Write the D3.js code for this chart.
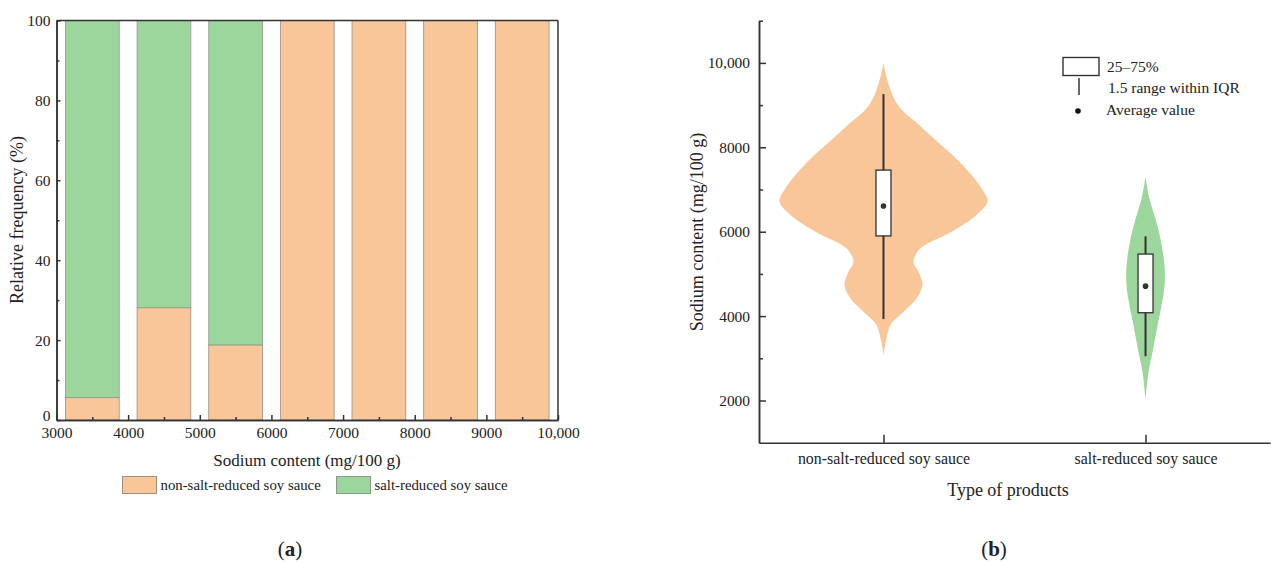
<!DOCTYPE html>
<html>
<head>
<meta charset="utf-8">
<script src="https://cdn.jsdelivr.net/npm/d3@7"></script>
<style>
  html, body { margin: 0; padding: 0; background: #fff; }
  text { font-family: "Liberation Serif", "Times New Roman", serif; fill: #222; }
</style>
</head>
<body>
<svg id="chart" width="1271" height="563"></svg>
<script>
// ---------- Data: panel (a) ----------
const binStarts = [3000, 4000, 5000, 6000, 7000, 8000, 9000];
const nonSaltFreq = [5.6, 28.1, 18.8, 100, 100, 100, 100];
const saltFreq = [94.4, 71.9, 81.2, 0, 0, 0, 0];
const xTicksA = [3000, 4000, 5000, 6000, 7000, 8000, 9000, 10000];
const yTicksA = [0, 20, 40, 60, 80, 100];
const seriesNames = ["non-salt-reduced soy sauce", "salt-reduced soy sauce"];

// ---------- Data: panel (b) ----------
const categories = ["non-salt-reduced soy sauce", "salt-reduced soy sauce"];
const yTicksB = [2000, 4000, 6000, 8000, 10000];
// violin outlines: [value, relative density]
const violinNonSalt = [[10000,0],[9700,0.027],[9235,0.09],[8920,0.17],[8603,0.32],[8366,0.43],[8129,0.54],[7583,0.79],[7031,0.98],[6714,1.04],[6398,0.93],[6000,0.68],[5605,0.37],[5289,0.30],[5052,0.35],[4737,0.39],[4420,0.33],[4104,0.20],[3789,0.07],[3474,0.03],[3080,0]];
const violinSalt = [[7300,0],[6775,0.04],[6300,0.10],[5826,0.15],[5194,0.19],[4720,0.19],[4246,0.16],[3780,0.12],[3147,0.07],[2673,0.03],[2020,0]];
const q1 = [5900, 4080];
const q3 = [7460, 5470];
const means = [6610, 4710];
const whiskLow = [3930, 3050];
const whiskHigh = [9260, 5890];
const legendLabels = ["25\u201375%", "1.5 range within IQR", "Average value"];

const ORANGE = "#f9c699";
const GREEN = "#9dd69c";
const DARK = "#333";

const svg = d3.select("#chart");

// ================= Panel (a) =================
const xA = d3.scaleLinear().domain([3000, 10000]).range([56.5, 558]);
const yA = d3.scaleLinear().domain([0, 100]).range([420, 20.5]);
const gA = svg.append("g");

const stack = binStarts.map((b, i) => ({ b, non: nonSaltFreq[i], salt: saltFreq[i] }));
gA.selectAll("rect.non").data(stack).join("rect")
  .attr("x", d => xA(d.b + 125))
  .attr("width", d => xA(d.b + 875) - xA(d.b + 125))
  .attr("y", d => yA(d.non))
  .attr("height", d => yA(0) - yA(d.non))
  .attr("fill", ORANGE).attr("stroke", "#9a8f80").attr("stroke-width", 0.8);
gA.selectAll("rect.salt").data(stack.filter(d => d.salt > 0)).join("rect")
  .attr("x", d => xA(d.b + 125))
  .attr("width", d => xA(d.b + 875) - xA(d.b + 125))
  .attr("y", d => yA(d.non + d.salt))
  .attr("height", d => yA(d.non) - yA(d.non + d.salt))
  .attr("fill", GREEN).attr("stroke", "#8a9a88").attr("stroke-width", 0.8);

const fmtA = d => d >= 10000 ? d3.format(",")(d) : String(d);
const axA = gA.append("g").attr("transform", `translate(0,${yA(0)})`)
  .call(d3.axisBottom(xA).tickValues(xTicksA).tickFormat(fmtA).tickSize(-5).tickSizeOuter(0).tickPadding(7));
const axAm = gA.append("g").attr("transform", `translate(0,${yA(0)})`)
  .call(d3.axisBottom(xA).tickValues(d3.range(3500, 10000, 1000)).tickFormat("").tickSize(-3).tickSizeOuter(0));
const ayA = gA.append("g").attr("transform", `translate(${xA(3000)},0)`)
  .call(d3.axisLeft(yA).tickValues(yTicksA).tickSize(-4).tickSizeOuter(0).tickPadding(6));
const ayAm = gA.append("g").attr("transform", `translate(${xA(3000)},0)`)
  .call(d3.axisLeft(yA).tickValues(d3.range(10, 100, 20)).tickFormat("").tickSize(-3).tickSizeOuter(0));
[axA, axAm, ayA, ayAm].forEach(a => {
  a.selectAll("path, line").attr("stroke", DARK).attr("stroke-width", 1.5);
  a.selectAll("text").style("font-size", "15.5px").style("font-family", "Liberation Serif").attr("fill", "#222");
});
// lift the "0" label slightly above the x tick labels
ayA.selectAll(".tick text").filter(d => d === 0).attr("dy", "0.05em");
// frame top/right
gA.append("line").attr("x1", xA(3000)).attr("x2", xA(10000)).attr("y1", yA(100)).attr("y2", yA(100))
  .attr("stroke", DARK).attr("stroke-width", 1.5);
gA.append("line").attr("x1", xA(10000)).attr("x2", xA(10000)).attr("y1", yA(100)).attr("y2", yA(0))
  .attr("stroke", DARK).attr("stroke-width", 1.5);

gA.append("text").attr("x", 307).attr("y", 466).attr("text-anchor", "middle")
  .style("font-size", "17px").text("Sodium content (mg/100 g)");
gA.append("text").attr("transform", "translate(23,220) rotate(-90)").attr("text-anchor", "middle")
  .style("font-size", "18px").text("Relative frequency (%)");

// legend (a)
const legA = [{ x: 122.5, c: ORANGE, s: "#9a8f80", t: seriesNames[0] }, { x: 336.5, c: GREEN, s: "#8a9a88", t: seriesNames[1] }];
legA.forEach(l => {
  gA.append("rect").attr("x", l.x).attr("y", 476.5).attr("width", 34).attr("height", 17)
    .attr("fill", l.c).attr("stroke", l.s).attr("stroke-width", 1);
  gA.append("text").attr("x", l.x + 38).attr("y", 490).style("font-size", "14.8px").text(l.t);
});

// ================= Panel (b) =================
const xB = d3.scalePoint().domain(categories).range([759, 1270]).padding(0.475);
const yB = d3.scaleLinear().domain([1000, 11000]).range([442.7, 20.7]);
const wB = d3.scaleLinear().domain([0, 1]).range([0, 100]);
const gB = svg.append("g");

const violins = [violinNonSalt, violinSalt];
const vColors = [ORANGE, GREEN];
violins.forEach((v, i) => {
  const cx = xB(categories[i]);
  const area = d3.area()
    .y(d => yB(d[0]))
    .x0(d => cx - wB(d[1]))
    .x1(d => cx + wB(d[1]))
    .curve(d3.curveCatmullRom.alpha(0.5));
  gB.append("path").datum(v).attr("d", area).attr("fill", vColors[i]).attr("stroke", "none");
});

const boxW = 15;
categories.forEach((c, i) => {
  const cx = xB(c);
  gB.append("line").attr("x1", cx).attr("x2", cx).attr("y1", yB(whiskHigh[i])).attr("y2", yB(whiskLow[i]))
    .attr("stroke", DARK).attr("stroke-width", 2);
  gB.append("rect").attr("x", cx - boxW / 2).attr("width", boxW)
    .attr("y", yB(q3[i])).attr("height", yB(q1[i]) - yB(q3[i]))
    .attr("fill", "#fff").attr("stroke", DARK).attr("stroke-width", 1.3);
  gB.append("circle").attr("cx", cx).attr("cy", yB(means[i])).attr("r", 2.8).attr("fill", DARK);
});

const ayB = gB.append("g").attr("transform", `translate(${xB.range()[0]},0)`)
  .call(d3.axisLeft(yB).tickValues(yTicksB).tickFormat(d => d >= 10000 ? d3.format(",")(d) : String(d))
    .tickSize(-7).tickSizeOuter(0).tickPadding(9));
const ayBm = gB.append("g").attr("transform", `translate(${xB.range()[0]},0)`)
  .call(d3.axisLeft(yB).tickValues([3000, 5000, 7000, 9000, 11000]).tickFormat("").tickSize(-4).tickSizeOuter(0));
const axB = gB.append("g").attr("transform", `translate(0,${yB(1000)})`)
  .call(d3.axisBottom(xB).tickSize(-8).tickSizeOuter(0).tickPadding(10));
[ayB, ayBm, axB].forEach(a => {
  a.selectAll("path, line").attr("stroke", DARK).attr("stroke-width", 1.5);
  a.selectAll("text").style("font-size", "15.4px").style("font-family", "Liberation Serif").attr("fill", "#222");
});
axB.selectAll("text").style("font-size", "15.9px");

gB.append("text").attr("x", 1008).attr("y", 496).attr("text-anchor", "middle")
  .style("font-size", "18px").text("Type of products");
gB.append("text").attr("transform", "translate(703,232) rotate(-90)").attr("text-anchor", "middle")
  .style("font-size", "18px").text("Sodium content (mg/100 g)");

// legend (b)
gB.append("rect").attr("x", 1063).attr("y", 57.5).attr("width", 36).attr("height", 18)
  .attr("fill", "#fff").attr("stroke", DARK).attr("stroke-width", 1.4);
gB.append("line").attr("x1", 1079).attr("x2", 1079).attr("y1", 78).attr("y2", 95)
  .attr("stroke", DARK).attr("stroke-width", 1.5);
gB.append("circle").attr("cx", 1078).attr("cy", 111).attr("r", 2.8).attr("fill", "#111");
const legYs = [71.5, 92.5, 115];
const legXs = [1107, 1108, 1106];
legendLabels.forEach((t, i) => {
  gB.append("text").attr("x", legXs[i]).attr("y", legYs[i]).style("font-size", "15.5px").text(t);
});

// panel labels
const lab = [{ x: 290, t: "a" }, { x: 994, t: "b" }];
lab.forEach(l => {
  const t = svg.append("text").attr("x", l.x).attr("y", 556).attr("text-anchor", "middle").style("font-size", "21px");
  t.append("tspan").text("(");
  t.append("tspan").style("font-weight", "bold").text(l.t);
  t.append("tspan").text(")");
});
</script>
</body>
</html>
